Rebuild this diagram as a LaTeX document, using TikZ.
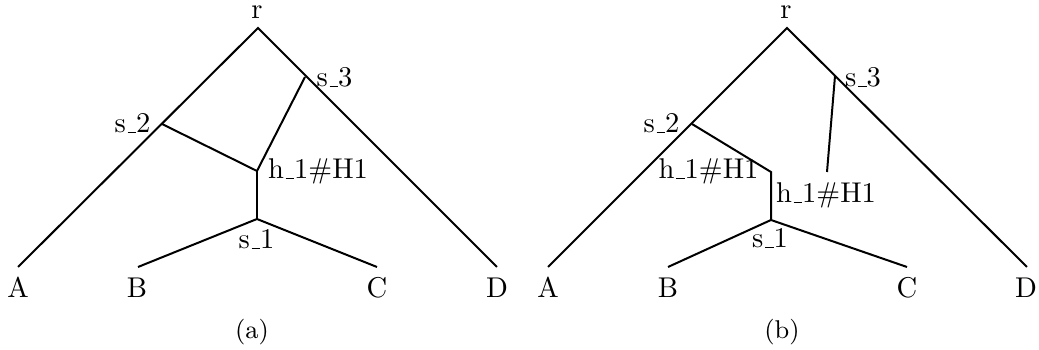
\documentclass[tikz,border=0pt]{standalone}
\newcommand\us{\leavevmode\kern.06em\vbox{\hrule width.3em}}
\begin{document}
\begin{tikzpicture}[x=0.35pt,y=-0.35pt,
  edge/.style={line width=0.7pt},
  lbl/.style={inner sep=0pt,anchor=base},
  captxt/.style={lbl,font=\small}]
\useasboundingbox (0,0) rectangle (1039,350);
% ---------- panel (a) ----------
\coordinate (ar) at (258,28);
\coordinate (as3) at (305,77);
\coordinate (as2) at (162,124);
\coordinate (ah) at (257,171);
\coordinate (as1) at (257,219);
\coordinate (aA) at (18,267);
\coordinate (aB) at (138,267);
\coordinate (aC) at (377,267);
\coordinate (aD) at (497,267);
\draw[edge] (aA) -- (ar) -- (aD);
\draw[edge] (as2) -- (ah) -- (as3);
\draw[edge] (ah) -- (as1);
\draw[edge] (aB) -- (as1) -- (aC);
\node[lbl] (arl) at (257,18.5) {r};
\node[lbl] (as3l) at (334.5,87) {s\us3};
\node[lbl] (as2l) at (132.5,133) {s\us2};
\node[lbl] (ahl) at (318,179) {h\us1\#H1};
\node[lbl] (as1l) at (256.5,249) {s\us1};
\node[lbl] (aAl) at (18,298) {A};
\node[lbl] (aBl) at (137,298) {B};
\node[lbl] (aCl) at (377,298) {C};
\node[lbl] (aDl) at (497,298) {D};
\node[captxt] (capa) at (252,339) {(a)};
% ---------- panel (b) ----------
\coordinate (br) at (787,28);
\coordinate (bs3) at (835,76);
\coordinate (bs2) at (692,124);
\coordinate (bhL) at (771,172);
\coordinate (bhR) at (827,172);
\coordinate (bs1) at (771,220);
\coordinate (bA) at (548,267);
\coordinate (bB) at (668,267);
\coordinate (bC) at (907,267);
\coordinate (bD) at (1027,267);
\draw[edge] (bA) -- (br) -- (bD);
\draw[edge] (bs2) -- (bhL) -- (bs1);
\draw[edge] (bs3) -- (bhR);
\draw[edge] (bB) -- (bs1) -- (bC);
\node[lbl] (brl) at (786,18.5) {r};
\node[lbl] (bs3l) at (863,87) {s\us3};
\node[lbl] (bs2l) at (661.5,133) {s\us2};
\node[lbl] (bhLl) at (708.5,179) {h\us1\#H1};
\node[lbl] (bhRl) at (826,203) {h\us1\#H1};
\node[lbl] (bs1l) at (770,248) {s\us1};
\node[lbl] (bAl) at (548,298) {A};
\node[lbl] (bBl) at (668,298) {B};
\node[lbl] (bCl) at (907,298) {C};
\node[lbl] (bDl) at (1026,298) {D};
\node[captxt] (capb) at (782,339) {(b)};
\end{tikzpicture}
\end{document}
